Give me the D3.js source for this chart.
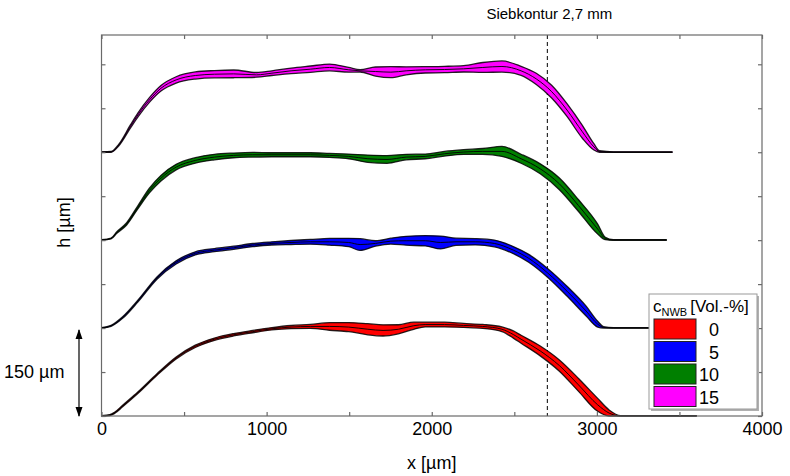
<!DOCTYPE html>
<html><head><meta charset="utf-8">
<script src="https://cdn.jsdelivr.net/npm/d3@7"></script>
<style>body{margin:0;background:#fff} text{font-family:"Liberation Sans",Arial,sans-serif}</style>
</head><body><svg id="c" width="790" height="476"></svg>
<script>
// ---------- data ----------
const seriesNames   = ["0", "5", "10", "15"];
const seriesColors  = ["#ff0000", "#0000ff", "#007f00", "#ff00ff"];
const seriesOffsets = [0, 150, 300, 450];   // vertical offset in µm

const red_x = [0, 50, 81, 128, 220, 336, 452, 568, 684, 800, 916, 1032, 1148, 1265, 1381, 1497, 1613, 1705, 1798, 1891, 1960, 2077, 2193, 2309, 2425, 2494, 2541, 2657, 2773, 2889, 3005, 3074, 3144, 3300, 3605];
const red_h = [0, 1.5, 5.7, 17, 39.6, 70.7, 99, 118.8, 131, 138.6, 144, 148.8, 151.7, 152.8, 152.8, 151.7, 148, 146, 148, 154, 156, 156, 154.5, 152.8, 148, 139, 131, 111, 86, 53, 19, 5, 0, 0, 0];
const red_w = [0.7, 0.7, 1.1, 1.4, 1.4, 1.4, 1.6, 2, 2, 2, 2, 2, 2.7, 3.4, 6.5, 7.7, 9.5, 9.5, 7.7, 6.1, 4, 4, 3.4, 3.4, 4, 6.1, 6.8, 8.4, 9.6, 11, 11, 5.4, 0.7, 0.7, 0.7];

const blue_x = [0, 58, 128, 220, 336, 452, 568, 684, 800, 916, 1032, 1148, 1265, 1381, 1497, 1566, 1659, 1752, 1845, 1961, 2054, 2147, 2263, 2379, 2494, 2587, 2703, 2819, 2935, 3005, 3040, 3100, 3500];
const blue_h = [0, 3.9, 18, 46, 85.4, 112, 127.5, 133, 137, 141.6, 144.4, 146, 147.2, 147.2, 146, 142.5, 144.4, 148.3, 149, 149, 146, 147.2, 147.2, 144.4, 133, 119, 93.8, 63, 29, 6.7, 1, 0, 0];
const blue_w = [0.7, 0.9, 1.4, 1.6, 2, 2.7, 2.7, 2.7, 2.7, 2.7, 2.7, 3.4, 4, 5.7, 7.2, 10, 4.6, 5, 7.6, 8.8, 11, 6.1, 5.4, 5.7, 6.1, 6.8, 7.6, 8.4, 8.4, 5, 1.4, 0.7, 0.7];

const green_x = [0, 58, 93, 151, 220, 290, 360, 452, 568, 684, 800, 916, 1032, 1148, 1265, 1381, 1497, 1613, 1729, 1845, 1961, 2077, 2193, 2309, 2425, 2541, 2657, 2773, 2889, 3005, 3051, 3100, 3423];
const green_h = [0, 2.9, 13.1, 27.4, 56, 84.6, 105.7, 124.6, 136, 141.7, 144.6, 145.7, 145.7, 145.7, 145.7, 144.6, 142.9, 138.9, 137.7, 141.7, 142.9, 147.4, 150.3, 151.4, 151.4, 138.9, 121.7, 96, 58.9, 18.9, 2.9, 0, 0];
const green_w = [0.7, 0.7, 1.4, 2, 2.7, 4, 4.7, 4.7, 4.7, 4.7, 4, 4, 3.4, 3.4, 3.4, 3.4, 4, 6.2, 6.6, 4.7, 4, 4, 4, 5, 8.5, 7.7, 8.5, 10, 10, 8.5, 2, 0.7, 0.7];

const magenta_x = [0, 58, 104, 174, 220, 290, 360, 452, 568, 684, 800, 939, 1032, 1148, 1265, 1381, 1497, 1566, 1659, 1752, 1845, 1961, 2077, 2193, 2309, 2425, 2541, 2633, 2726, 2819, 2912, 2982, 3016, 3100, 3458];
const magenta_h = [0, 0.6, 12, 43.4, 63.4, 89.1, 109.1, 123.4, 130.9, 133.1, 133.7, 132, 134.9, 138.9, 141.7, 144.6, 140.6, 138.9, 137.7, 136.6, 138.9, 140.6, 141.1, 142.3, 144.6, 146.3, 138.9, 125.1, 103.4, 72, 34.9, 9.1, 1.1, 0, 0];
const magenta_w = [0.7, 0.7, 1.4, 2.7, 3.4, 4, 4.7, 5.4, 6.1, 6.2, 6.6, 4, 4, 4.7, 5.4, 5.8, 4, 2, 7.7, 9.3, 6.8, 5.4, 5.4, 5.4, 8.5, 9.5, 7.7, 9.6, 11, 11, 11, 5.4, 1.4, 0.7, 0.7];

const xTickValues = [0, 500, 1000, 1500, 2000, 2500, 3000, 3500, 4000];
const xTickLabels = ["0", "", "1000", "", "2000", "", "3000", "", "4000"];
const yTickValues = [0, 75, 150, 225, 300, 375, 450, 525, 600];
const siebX = 2700;
const siebLabel = "Siebkontur 2,7 mm";
const scaleBarValue = 150;
const scaleBarLabel = "150 µm";

// ---------- chart ----------
const svg = d3.select("#c");
const L = 101.5, R = 762, T = 35, B = 416;
const x = d3.scaleLinear().domain([0, 4000]).range([L, R]);
const y = d3.scaleLinear().domain([0, 650]).range([B, T]);
const axisColor = "#6a6a6a";

const seriesData = [
  [red_x, red_h, red_w], [blue_x, blue_h, blue_w],
  [green_x, green_h, green_w], [magenta_x, magenta_h, magenta_w]
].map(([xs, hs, ws]) => xs.map((v, i) => ({x: v, h: hs[i], w: ws[i]})));

// dashed screen contour line
svg.append("line").attr("x1", x(siebX)).attr("x2", x(siebX))
  .attr("y1", y(650)).attr("y2", y(0))
  .attr("stroke", "#000").attr("stroke-width", 1).attr("stroke-dasharray", "4,3");

const gBands = svg.append("g");
seriesData.forEach((pts, si) => {
  const off = seriesOffsets[si];
  const lo = d => y(off + Math.max(0, d.h - d.w));
  const hi = d => y(off + d.h + d.w);
  const area = d3.area().x(d => x(d.x)).y0(lo).y1(hi).curve(d3.curveMonotoneX);
  gBands.append("path").attr("d", area(pts)).attr("fill", seriesColors[si]).attr("stroke", "none");
  [lo, hi].forEach(fy => {
    gBands.append("path").attr("d", d3.line().x(d => x(d.x)).y(fy).curve(d3.curveMonotoneX)(pts))
      .attr("fill", "none").attr("stroke", "#000").attr("stroke-width", 1.3).attr("opacity", 0.85);
  });
  gBands.append("path").attr("d", d3.line().x(d => x(d.x)).y(d => y(off + d.h)).curve(d3.curveMonotoneX)(pts))
    .attr("fill", "none").attr("stroke", "#000").attr("stroke-width", 0.9);
});

// frame
svg.append("rect").attr("x", L).attr("y", T).attr("width", R - L).attr("height", B - T)
  .attr("fill", "none").attr("stroke", axisColor).attr("stroke-width", 1.2);

function styleAxis(g) {
  g.select(".domain").remove();
  g.selectAll(".tick line").attr("stroke", axisColor).attr("stroke-width", 1.2);
  g.selectAll(".tick text").attr("fill", "#000").attr("font-size", 18)
    .attr("font-family", '"Liberation Sans", Arial, sans-serif');
}
svg.append("g").attr("transform", `translate(0,${B})`)
  .call(d3.axisBottom(x).tickValues(xTickValues).tickSize(-4).tickPadding(6)
    .tickFormat((d, i) => xTickLabels[i])).call(styleAxis);
svg.append("g").attr("transform", `translate(0,${T})`)
  .call(d3.axisTop(x).tickValues(xTickValues).tickSize(-4).tickFormat("")).call(styleAxis);
svg.append("g").attr("transform", `translate(${L},0)`)
  .call(d3.axisLeft(y).tickValues(yTickValues).tickSize(-4).tickFormat("")).call(styleAxis);
svg.append("g").attr("transform", `translate(${R},0)`)
  .call(d3.axisRight(y).tickValues(yTickValues).tickSize(-4).tickFormat("")).call(styleAxis);

// axis titles
svg.append("text").attr("x", (L + R) / 2).attr("y", 469).attr("text-anchor", "middle")
  .attr("font-size", 18).text("x [µm]");
svg.append("text").attr("transform", `translate(70,${(T + B) / 2 - 3}) rotate(-90)`)
  .attr("text-anchor", "middle").attr("font-size", 18).text("h [µm]");

// Siebkontur label
svg.append("text").attr("x", x(siebX) + 2).attr("y", 19).attr("text-anchor", "middle")
  .attr("font-size", 15).text(siebLabel);

// scale bar arrow
const defs = svg.append("defs");
defs.append("marker").attr("id", "ah").attr("viewBox", "0 0 10 10").attr("refX", 9).attr("refY", 5)
  .attr("markerWidth", 10).attr("markerHeight", 10).attr("markerUnits", "userSpaceOnUse")
  .attr("orient", "auto-start-reverse")
  .append("path").attr("d", "M0,1.5 L10,5 L0,8.5 Z").attr("fill", "#000");
svg.append("line").attr("x1", 79).attr("x2", 79)
  .attr("y1", y(scaleBarValue) + 2).attr("y2", y(0))
  .attr("stroke", "#000").attr("stroke-width", 1.2)
  .attr("marker-start", "url(#ah)").attr("marker-end", "url(#ah)");
svg.append("text").attr("x", 4).attr("y", (y(scaleBarValue) + y(0)) / 2 + 6)
  .attr("font-size", 18).text(scaleBarLabel);

// legend
const lg = svg.append("g").attr("transform", "translate(649,294)");
lg.append("rect").attr("x", 2).attr("y", 2).attr("width", 108).attr("height", 115).attr("fill", "#b0b0b0");
lg.append("rect").attr("x", 0).attr("y", 0).attr("width", 108).attr("height", 115)
  .attr("fill", "#fff").attr("stroke", "#999").attr("stroke-width", 1);
const lt = lg.append("text").attr("x", 4).attr("y", 18).attr("font-size", 17);
lt.append("tspan").text("c");
lt.append("tspan").attr("font-size", 11).attr("dy", 4).text("NWB");
lt.append("tspan").attr("dy", -4).attr("dx", 3).text("[Vol.-%]");
seriesNames.forEach((n, i) => {
  const yy = 25 + i * 22.5;
  lg.append("rect").attr("x", 5).attr("y", yy).attr("width", 42).attr("height", 20)
    .attr("fill", seriesColors[i]).attr("stroke", "#222").attr("stroke-width", 1);
  lg.append("text").attr("x", 70).attr("y", yy + 17).attr("text-anchor", "end")
    .attr("font-size", 18).text(n);
});
</script></body></html>
